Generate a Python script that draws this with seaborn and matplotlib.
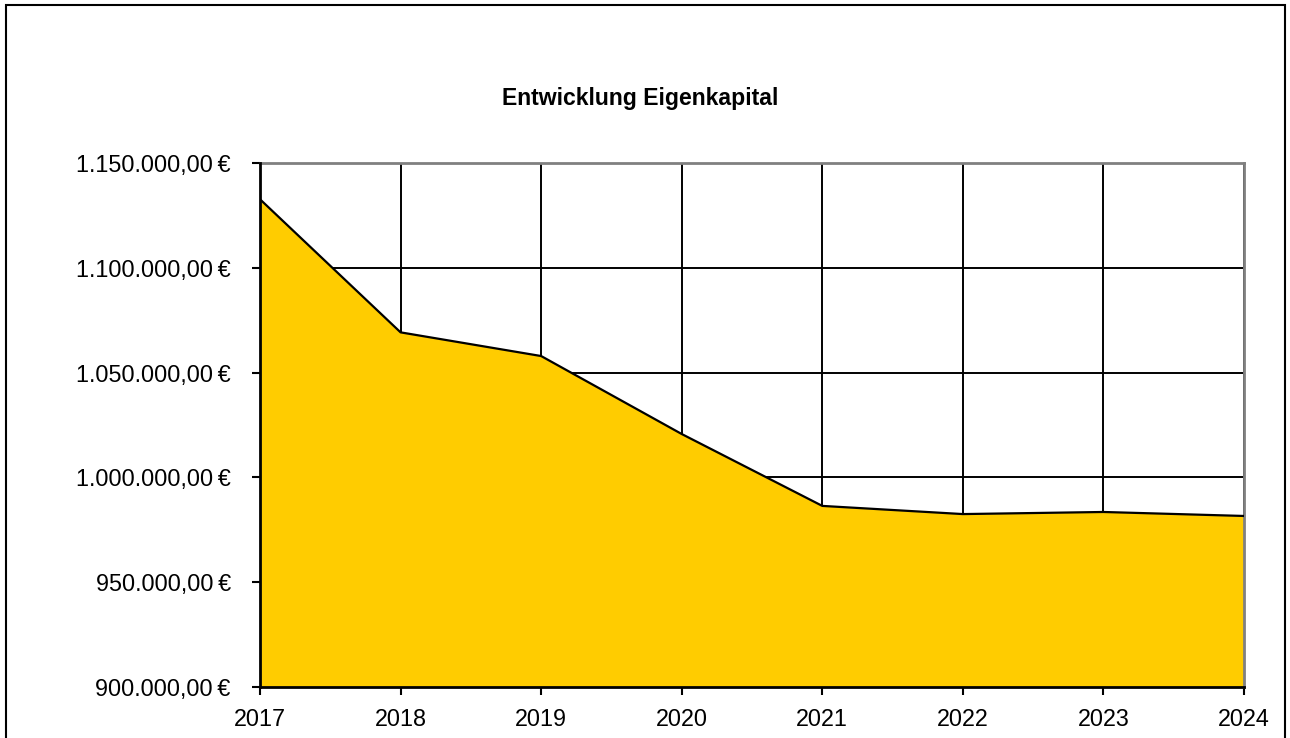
import matplotlib
matplotlib.use("Agg")
import matplotlib.pyplot as plt
import seaborn as sns
import pandas as pd
from matplotlib.ticker import FuncFormatter
from matplotlib.patches import Rectangle

years = [2017, 2018, 2019, 2020, 2021, 2022, 2023, 2024]
eigenkapital = [1132700, 1069200, 1057900, 1020700, 986400, 982500, 983500, 981600]
y_ticks = [900000, 950000, 1000000, 1050000, 1100000, 1150000]
title = "Entwicklung Eigenkapital"

df = pd.DataFrame({"Jahr": years, "Eigenkapital": eigenkapital})

sns.set_theme(style="white")
plt.rcParams["font.family"] = ["Liberation Sans", "DejaVu Sans"]

fig = plt.figure(figsize=(12.9, 7.38), dpi=100)
ax = fig.add_axes([260/1290, 1-687/738, (1244-260)/1290, (687-163)/738])

ax.fill_between(df["Jahr"], df["Eigenkapital"], y_ticks[0], color="#FFCC00", zorder=2, linewidth=0)
sns.lineplot(data=df, x="Jahr", y="Eigenkapital", ax=ax, color="black", linewidth=1.6, zorder=3)

ax.set_xlim(years[0], years[-1])
ax.set_ylim(y_ticks[0], y_ticks[-1])
ax.set_xticks(years)
ax.set_yticks(y_ticks)

def euro(v, pos):
    s = f"{v:,.2f}".replace(",", "X").replace(".", ",").replace("X", ".")
    return s + "\u2009€"

ax.yaxis.set_major_formatter(FuncFormatter(euro))
ax.set_xlabel("")
ax.set_ylabel("")

ax.grid(True, color="black", linewidth=1.4, zorder=1)
ax.set_axisbelow(True)

for s in ["left", "bottom"]:
    ax.spines[s].set_color("black")
    ax.spines[s].set_linewidth(2)
    ax.spines[s].set_zorder(4)
for s in ["top", "right"]:
    ax.spines[s].set_color("#808080")
    ax.spines[s].set_linewidth(2)

ax.tick_params(axis="both", which="major", direction="out", length=6, width=1.5,
               color="black", labelsize=16.8, labelcolor="black")
ax.tick_params(axis="y", pad=15, left=True)
ax.tick_params(axis="x", pad=9, bottom=True)

fig.text(640/1290, 1-99/738, title, ha="center", va="center",
         fontsize=16.6, fontweight="bold", color="black")

fig.patches.append(Rectangle((6/1290, -0.05), (1285-6)/1290, 1.05-5/738,
                             transform=fig.transFigure, fill=False,
                             edgecolor="black", linewidth=1.5))

fig.savefig("out.png", dpi=100)
